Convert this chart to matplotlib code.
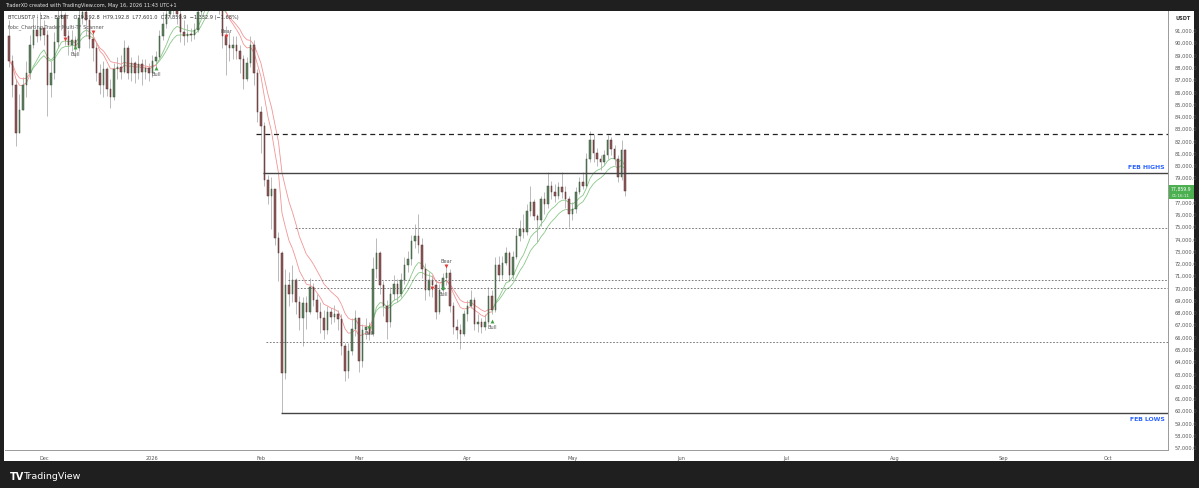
import matplotlib
matplotlib.use("Agg")
import matplotlib.pyplot as plt
import matplotlib.dates as mdates
import matplotlib.transforms as mtransforms
from matplotlib.collections import LineCollection
from matplotlib.patches import Rectangle
import numpy as np
import pandas as pd

# ---------------- data (prices in thousands of USDT, daily bars) ----------------
start_date = "2025-11-21"
first_open = 90.5
close = [88.5, 86.5, 82.6, 84.5, 86.5, 87.5, 89.8, 91.0, 90.5, 91.2,
         90.6, 86.5, 87.5, 90.0, 92.0, 92.2, 90.5, 89.8, 90.2, 89.5,
         92.0, 92.5, 91.8, 90.3, 89.5, 87.5, 86.5, 87.8, 86.2, 85.5,
         87.8, 88.0, 87.6, 89.5, 87.5, 88.3, 87.5, 88.2, 87.6, 87.9,
         87.5, 88.5, 88.8, 90.5, 91.5, 92.3, 93.5, 93.0, 92.3, 90.8,
         90.5, 90.7, 90.6, 91.0, 92.5, 94.5, 95.5, 96.5, 95.5, 95.0,
         93.0, 90.5, 89.8, 89.5, 89.8, 89.3, 88.6, 87.0, 88.3, 89.8,
         87.5, 84.3, 83.2, 78.8, 77.5, 78.0, 74.0, 72.8, 63.0, 70.2,
         69.5, 70.6, 68.8, 67.5, 68.7, 68.0, 70.0, 69.0, 68.0, 67.5,
         66.5, 68.0, 67.6, 67.8, 67.4, 65.2, 63.2, 64.8, 66.6, 67.5,
         64.0, 66.5, 66.8, 66.2, 71.5, 72.8, 70.2, 68.5, 67.2, 69.5,
         70.3, 69.5, 70.6, 71.8, 72.3, 73.8, 74.2, 73.5, 71.5, 69.8,
         70.6, 70.2, 68.0, 69.8, 70.8, 71.2, 68.5, 66.8, 66.5, 66.2,
         67.8, 68.5, 69.0, 67.0, 67.2, 66.8, 67.2, 69.3, 68.2, 71.8,
         71.0, 72.0, 72.8, 71.0, 72.5, 74.2, 74.8, 74.5, 76.2, 77.0,
         75.8, 75.5, 77.2, 76.8, 78.3, 77.8, 77.5, 78.2, 77.8, 77.2,
         76.0, 76.4, 77.8, 78.6, 78.3, 80.5, 82.0, 81.0, 80.5, 80.2,
         80.8, 82.0, 81.3, 80.5, 79.0, 81.2, 77.8599]
high = [91.8, 89.0, 87.0, 85.8, 87.2, 88.5, 90.6, 92.0, 92.3, 92.5,
        91.8, 91.0, 88.5, 90.8, 93.5, 94.0, 92.5, 91.0, 91.0, 90.5,
        93.5, 94.0, 93.5, 92.0, 91.0, 90.0, 88.2, 88.5, 88.0, 87.0,
        88.3, 88.8, 89.0, 90.2, 89.8, 88.8, 88.5, 89.0, 88.6, 88.6,
        88.3, 89.0, 89.3, 91.0, 92.5, 93.8, 94.5, 94.5, 93.5, 92.8,
        91.8, 91.5, 91.2, 91.6, 93.5, 95.5, 97.0, 97.5, 97.5, 96.0,
        95.5, 93.2, 91.3, 90.8, 90.5, 90.5, 89.8, 89.0, 88.8, 90.5,
        90.2, 87.8, 84.8, 83.5, 79.2, 79.0, 78.0, 74.5, 73.0, 71.5,
        71.3, 71.8, 70.8, 69.3, 69.2, 69.3, 70.8, 70.4, 69.5, 68.8,
        68.2, 68.5, 68.3, 68.6, 68.2, 67.8, 65.5, 65.5, 67.5, 68.2,
        67.5, 67.0, 67.5, 67.2, 72.5, 74.0, 73.0, 70.5, 69.0, 70.0,
        71.0, 70.7, 71.2, 72.5, 73.0, 74.3, 75.2, 76.0, 74.0, 72.0,
        71.3, 71.0, 70.5, 70.3, 71.2, 71.9, 71.5, 68.8, 67.4, 67.0,
        68.2, 69.0, 69.8, 69.2, 67.8, 67.5, 67.8, 70.0, 69.8, 72.5,
        72.6, 72.6, 73.3, 73.0, 73.0, 74.8, 75.5, 76.0, 76.8, 78.3,
        77.2, 76.0, 77.5, 77.8, 79.4, 78.7, 78.4, 78.6, 79.4, 78.3,
        77.5, 77.0, 78.2, 79.0, 79.4, 81.0, 82.8, 82.5, 81.4, 80.8,
        81.2, 82.4, 82.3, 81.6, 80.8, 82.0, 81.3]
low = [88.0, 85.5, 81.5, 83.5, 84.5, 85.5, 87.0, 89.5, 90.0, 90.2,
       89.8, 84.0, 85.5, 87.0, 89.5, 91.0, 89.8, 89.0, 89.3, 88.8,
       89.3, 91.5, 90.5, 89.5, 88.5, 86.8, 85.8, 85.5, 85.6, 84.6,
       85.3, 87.0, 87.0, 87.5, 87.0, 86.8, 86.7, 87.0, 86.5, 87.0,
       86.8, 87.2, 88.0, 88.6, 90.2, 91.2, 92.0, 92.3, 91.5, 90.0,
       89.8, 90.0, 90.1, 90.3, 90.8, 92.2, 94.0, 95.0, 94.8, 93.5,
       92.3, 89.5, 87.3, 88.5, 88.6, 88.6, 87.5, 86.2, 86.8, 88.0,
       86.5, 83.5, 81.0, 78.3, 76.8, 74.8, 73.5, 70.5, 59.8, 62.5,
       68.5, 68.8, 67.8, 66.5, 65.2, 66.6, 67.8, 68.5, 67.4, 66.3,
       65.8, 66.2, 67.0, 67.2, 66.5, 64.5, 62.4, 62.6, 64.5, 66.0,
       63.1, 63.5, 65.8, 65.7, 66.0, 70.8, 69.5, 67.7, 65.8, 66.8,
       69.0, 68.8, 69.2, 70.3, 71.3, 71.8, 73.2, 72.8, 70.8, 69.0,
       69.3, 69.2, 67.4, 67.8, 69.5, 70.2, 68.0, 66.2, 65.8, 65.0,
       66.0, 67.3, 68.3, 66.5, 66.4, 66.3, 66.5, 67.0, 67.8, 68.0,
       70.5, 70.7, 71.8, 70.5, 70.7, 72.3, 73.8, 74.0, 74.3, 75.8,
       75.5, 73.7, 75.0, 76.0, 76.5, 77.2, 77.0, 77.2, 77.3, 76.5,
       74.9, 75.5, 76.1, 77.6, 78.0, 78.2, 80.2, 80.2, 79.9, 79.6,
       80.0, 80.5, 80.8, 80.0, 78.6, 78.8, 77.5]

# horizontal levels
level_prices = [82.5, 79.35, 74.85, 70.6, 69.95, 65.55, 59.8]
level_starts = ["2026-01-30 12:00", "2026-02-01 16:00", "2026-02-10 18:00",
                "2026-02-08 18:00", "2026-02-11 04:00", "2026-02-02 10:00",
                "2026-02-06 16:00"]
level_styles = ["dashed", "solid", "dotted", "dotted", "dotted", "dotted", "solid"]

# signals
sig_dates = ["2025-12-07", "2025-12-10", "2025-12-15", "2026-01-02",
             "2026-01-22", "2026-03-04", "2026-03-22", "2026-03-25",
             "2026-03-26", "2026-04-08"]
sig_prices = [90.3, 89.6, 90.8, 87.9, 90.5, 66.85, 69.95, 70.0, 71.75, 67.3]
sig_kinds = ["Bear", "Bull", "Bear", "Bull", "Bear", "Bull", "Bear", "Bull", "Bear", "Bull"]
sig_labels = [False, True, False, True, True, True, False, True, True, True]

month_ticks = ["2025-12-01", "2026-01-01", "2026-02-01", "2026-03-01", "2026-04-01",
               "2026-05-01", "2026-06-01", "2026-07-01", "2026-08-01", "2026-09-01",
               "2026-10-01"]
month_labels = ["Dec", "2026", "Feb", "Mar", "Apr", "May", "Jun", "Jul", "Aug", "Sep", "Oct"]
ytick_vals = list(range(57000, 92000, 1000))
last_price = 77859.9
countdown = "01:16:11"

# ---------------- figure ----------------
W, H = 1199, 489
fig = plt.figure(figsize=(W / 100, H / 100), dpi=100, facecolor="#1f1f1f")
fig.patches.append(Rectangle((4 / W, 1 - 462 / H), 1190 / W, 450 / H,
                             transform=fig.transFigure, facecolor="white",
                             edgecolor="none", zorder=-5))
ax = fig.add_axes([5 / W, 1 - 451 / H, 1163 / W, 439 / H])
ax.set_zorder(1)
ax.set_facecolor("white")

dates = pd.date_range(start_date, periods=len(close), freq="D")
x = mdates.date2num(dates)
c = np.array(close) * 1000
o = np.r_[first_open, np.array(close)[:-1]] * 1000
h = np.array(high) * 1000
l = np.array(low) * 1000
h = np.maximum(h, np.maximum(o, c))
l = np.minimum(l, np.minimum(o, c))
up = c >= o

bull_fill, bull_edge = "#5f805f", "#3a553a"
bear_fill, bear_edge = "#8e5a5a", "#5a2e2e"
ax.vlines(x, l, h, color="#b0b0b0", lw=0.6, zorder=2)
ax.bar(x[up], (c - o)[up], bottom=o[up], width=0.5, color=bull_fill,
       edgecolor=bull_edge, linewidth=0.35, zorder=3)
ax.bar(x[~up], (c - o)[~up], bottom=o[~up], width=0.5, color=bear_fill,
       edgecolor=bear_edge, linewidth=0.35, zorder=3)

# EMA ribbon coloured by trend
s = pd.Series(c)
fast = s.ewm(span=9, adjust=False).mean().values
slow = s.ewm(span=14, adjust=False).mean().values
state = fast >= slow
for line in (fast, slow):
    segs = [[(x[k], line[k]), (x[k + 1], line[k + 1])] for k in range(len(x) - 1)]
    cols = ["#86c686" if state[k + 1] else "#f29393" for k in range(len(x) - 1)]
    ax.add_collection(LineCollection(segs, colors=cols, linewidths=0.6, zorder=2.5))

# levels
x_right = mdates.date2num(pd.Timestamp("2026-10-18 03:00"))
for p, st, sty in zip(level_prices, level_starts, level_styles):
    xs = mdates.date2num(pd.Timestamp(st))
    if sty == "dashed":
        ax.hlines(p * 1000, xs, x_right, color="#222222", lw=0.9, linestyles=[(0, (4, 3))], zorder=4)
    elif sty == "dotted":
        ax.hlines(p * 1000, xs, x_right, color="#666666", lw=0.6, linestyles=[(0, (2, 2))], zorder=4)
    else:
        ax.hlines(p * 1000, xs, x_right, color="#444444", lw=1.0, zorder=4)

bt = mtransforms.blended_transform_factory(ax.transAxes, ax.transData)
ax.text(0.9974, 79.35e3 + 330, "FEB HIGHS", transform=bt,
        ha="right", va="bottom", fontsize=4.4, color="#2962ff", fontweight="bold")
ax.text(0.9974, 59.8e3 - 250, "FEB LOWS", transform=bt,
        ha="right", va="top", fontsize=4.4, color="#2962ff", fontweight="bold")

# signals
for d, p, k, lab in zip(sig_dates, sig_prices, sig_kinds, sig_labels):
    xd = mdates.date2num(pd.Timestamp(d))
    if k == "Bull":
        ax.plot(xd, p * 1000, marker="^", ms=2.8, color="#43a047", zorder=5, mec="none")
        if lab:
            ax.text(xd, p * 1000 - 280, "Bull", ha="center", va="top", fontsize=3.6, color="#555555", zorder=5)
    else:
        ax.plot(xd, p * 1000, marker="v", ms=2.8, color="#e53935", zorder=5, mec="none")
        if lab:
            ax.text(xd, p * 1000 + 280, "Bear", ha="center", va="bottom", fontsize=3.6, color="#555555", zorder=5)

# axes
x0 = mdates.date2num(pd.Timestamp("2025-11-19 21:00"))
ax.set_xlim(x0, x_right)
ax.set_ylim(56742, 92550)
ax.set_xticks([mdates.date2num(pd.Timestamp(t)) for t in month_ticks])
ax.set_xticklabels(month_labels)
ax.set_yticks(ytick_vals)
# the 78,000 label sits under the live price tag, as in the reference
ax.set_yticklabels(["" if v == 78000 else f"{v:,.1f}" for v in ytick_vals])
ax.yaxis.tick_right()
ax.tick_params(axis="both", length=0, labelsize=3.6, colors="#555555")
ax.tick_params(axis="y", pad=5)
ax.tick_params(axis="x", pad=3.5)
for sp in ("top", "left"):
    ax.spines[sp].set_visible(False)
for sp in ("right", "bottom"):
    ax.spines[sp].set_color("#9a9a9a")
    ax.spines[sp].set_linewidth(0.7)

fig.text(1176 / W, 1 - 19 / H, "USDT", fontsize=3.6,
         color="#333333", ha="left", va="center", fontweight="bold", zorder=3)

# current price tag
ax.add_patch(Rectangle((1.0005, last_price - 640), 25 / 1163, 1140, transform=bt,
                       facecolor="#4caf50", edgecolor="none", clip_on=False, zorder=6))
ax.text(1.0005 + 12.5 / 1163, last_price + 200, f"{last_price:,.1f}", transform=bt,
        ha="center", va="center", fontsize=3.3, color="white", clip_on=False, zorder=7)
ax.text(1.0005 + 12.5 / 1163, last_price - 330, countdown, transform=bt,
        ha="center", va="center", fontsize=3.0, color="#e8f5e9", clip_on=False, zorder=7)

# header / legend / footer texts
fig.text(5 / W, 1 - 6 / H, "TraderXO created with TradingView.com, May 16, 2026 11:43 UTC+1",
         fontsize=3.6, color="#e6e6e6", ha="left", va="center")
fig.text(8 / W, 1 - 17 / H,
         "BTCUSDT.P · 12h · BYBIT   O79,192.8  H79,192.8  L77,601.0  C77,859.9  −1,332.9 (−1.68%)",
         fontsize=3.6, color="#333333", ha="left", va="center", zorder=3)
fig.text(8 / W, 1 - 27 / H, "fobc_Charting Trader Multi-TF Scanner",
         fontsize=3.6, color="#555555", ha="left", va="center", zorder=3)
fig.text(10 / W, 1 - 477 / H, "TV", fontsize=7, color="white", fontweight="bold",
         ha="left", va="center")
fig.text(23 / W, 1 - 477 / H, "TradingView", fontsize=6.8, color="white",
         ha="left", va="center")

fig.savefig("out.png", dpi=100, facecolor=fig.get_facecolor())
